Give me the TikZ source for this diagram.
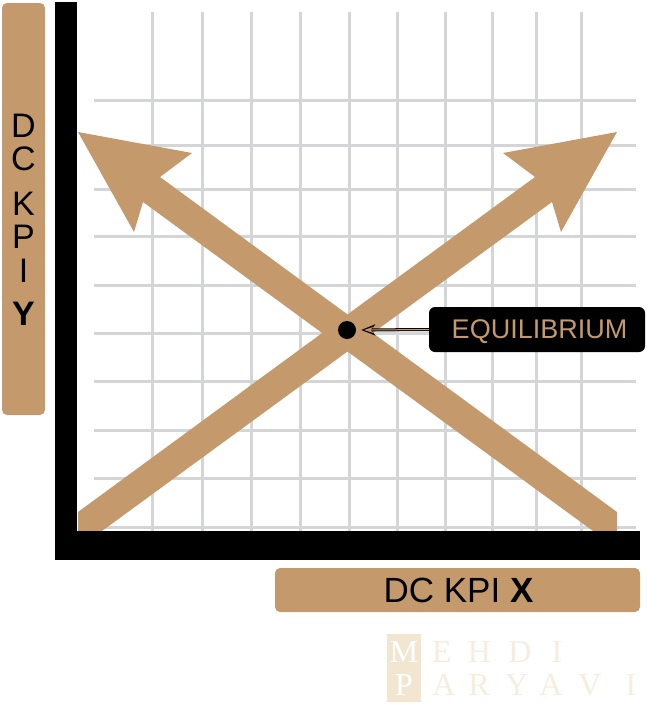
\documentclass[tikz,border=0pt]{standalone}
\usepackage{fontspec}
\setmainfont{Liberation Sans}
\newfontfamily\wmfont{Liberation Serif}
\usetikzlibrary{arrows.meta}
\definecolor{tanc}{HTML}{C49A6C}
\definecolor{gridc}{HTML}{D4D5D7}
\definecolor{wmsq}{HTML}{F3E6D1}
\definecolor{wmtx}{HTML}{F6EDDF}
\begin{document}
\begin{tikzpicture}[x=1pt,y=-1pt,
  gridline/.style={gridc, line width=3pt},
  band/.style={fill=tanc},
  ylet/.style={anchor=base, inner sep=0pt, font=\fontsize{34}{34}\selectfont},
  wmlet/.style={anchor=base, inner sep=0pt, text=wmtx, font=\wmfont\fontsize{32}{32}\selectfont},
  labbox/.style={fill=tanc, rounded corners=5pt}]
\useasboundingbox (0,0) rectangle (646,720);
% grid
\foreach \yy in {100.7,145.7,189,236.5,285,333,381.7,430,478,527}
  \draw[gridline] (94,\yy) -- (636,\yy);
\foreach \xx in {152,202,251.5,300,349,397.7,445,492.7,536.3,581}
  \draw[gridline] (\xx,12) -- (\xx,531);
% crossing arrows
\fill[band] (78,531) -- (78,512) -- (535,177) -- (503,153) -- (617,132) -- (561,232) -- (552,202) -- (102,531) -- cycle;
\fill[band] (617,531) -- (617,512) -- (160,177) -- (192,153) -- (78,132) -- (134,232) -- (143,202) -- (593,531) -- cycle;
% axes
\fill[black] (55,2) rectangle (77,560);
\fill[black] (55,531) rectangle (640,560);
% y label
\fill[labbox] (2,3) rectangle (45,415);
\foreach \ch/\bl [count=\i] in {D/137,C/170,K/215,P/248,I/282}
  \node[ylet] (yl\i) at (23.5,\bl) {\ch};
\node[ylet, font=\fontsize{34}{34}\selectfont\bfseries] (ylY) at (23.5,325) {Y};
% x label
\fill[labbox] (275,568) rectangle (640,612);
\node[ylet, font=\fontsize{35}{35}\selectfont] (xl) at (458.5,602) {DC KPI \textbf{X}};
% equilibrium
\node[circle, fill=black, minimum size=18pt, inner sep=0pt] (eq) at (347,330) {};
\node[fill=black, rounded corners=6pt, minimum width=216pt, minimum height=45pt, inner sep=0pt] (eqlab) at (537,329.5) {};
\node[anchor=base, inner sep=0pt, text=tanc, font=\fontsize{27}{27}\selectfont] (eqtxt) at (539.5,338) {EQUILIBRIUM};
\draw[black, line width=3pt, -{Stealth[length=14pt,width=11pt,inset=4pt]}] (eqlab.west) -- ([xshift=5pt]eq.east);
\draw[tanc, line width=1pt, -{Stealth[length=9pt,width=6pt,inset=3pt]}] (eqlab.west) -- ([xshift=8pt]eq.east);
% watermark
\fill[wmsq] (387,634) rectangle (421,702);
\node[wmlet, text=white] (wm1) at (404,662) {M};
\foreach \ch/\xx [count=\i] in {E/442,H/479.5,D/520,I/557}
  \node[wmlet] (wa\i) at (\xx,662) {\ch};
\node[wmlet, text=white] (wp1) at (404,695) {P};
\foreach \ch/\xx [count=\i] in {A/444,R/479,Y/517,A/551,V/590,I/631}
  \node[wmlet] (wb\i) at (\xx,695) {\ch};
\end{tikzpicture}
\end{document}
